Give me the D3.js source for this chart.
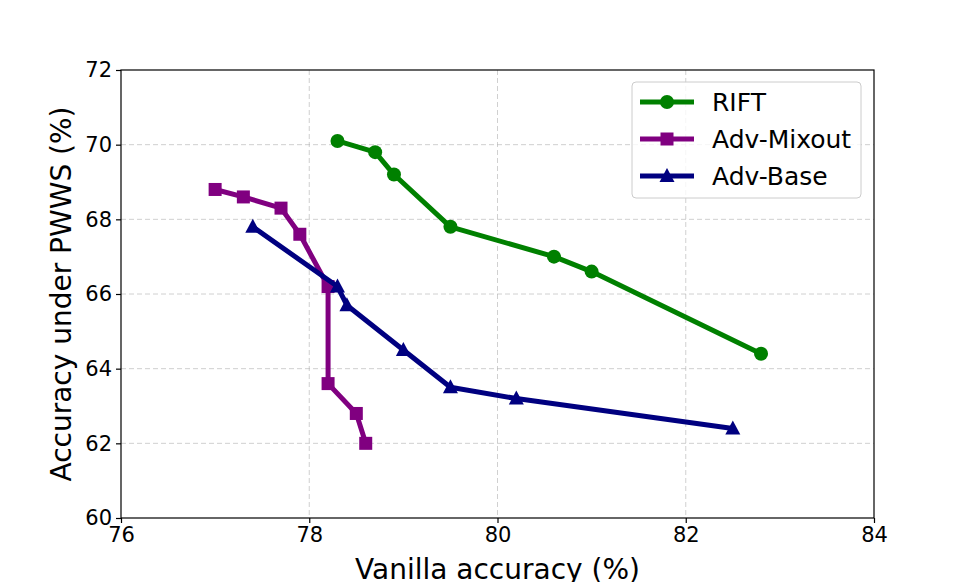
<!DOCTYPE html>
<html>
<head>
<meta charset="utf-8">
<script src="https://cdn.jsdelivr.net/npm/d3@7"></script>
<style>
  body { margin: 0; background: #fff; }
  svg { font-family: "DejaVu Sans", sans-serif; }
</style>
</head>
<body>
<svg id="chart" width="970" height="582"></svg>
<script>
// data
var riftX = [78.3, 78.7, 78.9, 79.5, 80.6, 81.0, 82.8];
var riftY = [70.1, 69.8, 69.2, 67.8, 67.0, 66.6, 64.4];
var mixoutX = [77.0, 77.3, 77.7, 77.9, 78.2, 78.2, 78.5, 78.6];
var mixoutY = [68.8, 68.6, 68.3, 67.6, 66.2, 63.6, 62.8, 62.0];
var baseX = [77.4, 78.3, 78.4, 79.0, 79.5, 80.2, 82.5];
var baseY = [67.8, 66.2, 65.7, 64.5, 63.5, 63.2, 62.4];
var xTicks = [76, 78, 80, 82, 84];
var yTicks = [60, 62, 64, 66, 68, 70, 72];

var series = [
    {name: "RIFT", xs: riftX, ys: riftY, color: "green", marker: "circle"},
    {name: "Adv-Mixout", xs: mixoutX, ys: mixoutY, color: "purple", marker: "square"},
    {name: "Adv-Base", xs: baseX, ys: baseY, color: "navy", marker: "triangle"}
];

var plotL = 121, plotR = 874, plotT = 70, plotB = 518;

var svg = d3.select("#chart");

var x = d3.scaleLinear().domain([76, 84]).range([plotL, plotR]);
var y = d3.scaleLinear().domain([60, 72]).range([plotB, plotT]);

// grid
var grid = svg.append("g");
grid.selectAll(".vg")
    .data(xTicks.slice(1, -1))
    .enter().append("line")
    .attr("x1", function(d) { return x(d); })
    .attr("x2", function(d) { return x(d); })
    .attr("y1", plotT).attr("y2", plotB)
    .attr("stroke", "#b0b0b0").attr("stroke-opacity", 0.6)
    .attr("stroke-width", 1).attr("stroke-dasharray", "5,3");
grid.selectAll(".hg")
    .data(yTicks.slice(1, -1))
    .enter().append("line")
    .attr("y1", function(d) { return y(d); })
    .attr("y2", function(d) { return y(d); })
    .attr("x1", plotL).attr("x2", plotR)
    .attr("stroke", "#b0b0b0").attr("stroke-opacity", 0.6)
    .attr("stroke-width", 1).attr("stroke-dasharray", "5,3");

// axes
var xAxis = svg.append("g")
    .attr("transform", "translate(0," + plotB + ")")
    .call(d3.axisBottom(x).tickValues(xTicks).tickSize(5).tickPadding(4));
var yAxis = svg.append("g")
    .attr("transform", "translate(" + plotL + ",0)")
    .call(d3.axisLeft(y).tickValues(yTicks).tickSize(5).tickPadding(4));
[xAxis, yAxis].forEach(function(a) {
    a.attr("font-size", null).attr("font-family", null);
    a.selectAll("text").style("font-size", "21px").attr("fill", "#000")
        .style("font-family", "DejaVu Sans, sans-serif");
    a.selectAll("line").attr("stroke", "#000").attr("stroke-width", 1.2);
    a.select(".domain").remove();
});

// frame
svg.append("rect")
    .attr("x", plotL).attr("y", plotT)
    .attr("width", plotR - plotL).attr("height", plotB - plotT)
    .attr("fill", "none").attr("stroke", "#000").attr("stroke-width", 1.2);

// axis labels
svg.append("text")
    .attr("x", (plotL + plotR) / 2).attr("y", 579)
    .attr("text-anchor", "middle").style("font-size", "28px")
    .text("Vanilla accuracy (%)");
svg.append("text")
    .attr("transform", "translate(71," + (plotT + plotB) / 2 + ") rotate(-90)")
    .attr("text-anchor", "middle").style("font-size", "28px")
    .text("Accuracy under PWWS (%)");

function drawMarker(g, type, color) {
    if (type == "circle") {
        g.append("circle").attr("r", 7).attr("fill", color);
    } else if (type == "square") {
        g.append("rect").attr("x", -6.5).attr("y", -6.5)
            .attr("width", 13).attr("height", 13).attr("fill", color);
    } else {
        g.append("path").attr("d", "M0,-8L7.5,6L-7.5,6Z").attr("fill", color);
    }
}

var line = d3.line()
    .x(function(d) { return x(d[0]); })
    .y(function(d) { return y(d[1]); });

series.forEach(function(s) {
    var pts = s.xs.map(function(v, i) { return [v, s.ys[i]]; });
    svg.append("path")
        .datum(pts)
        .attr("d", line)
        .attr("fill", "none")
        .attr("stroke", s.color)
        .attr("stroke-width", 5)
        .attr("stroke-linejoin", "round");
    pts.forEach(function(p) {
        var g = svg.append("g").attr("transform", "translate(" + x(p[0]) + "," + y(p[1]) + ")");
        drawMarker(g, s.marker, s.color);
    });
});

// legend
var legend = svg.append("g");
legend.append("rect")
    .attr("x", 632).attr("y", 82).attr("width", 229).attr("height", 116)
    .attr("rx", 4).attr("fill", "#fff").attr("fill-opacity", 0.8)
    .attr("stroke", "#cccccc").attr("stroke-width", 1);
series.forEach(function(s, i) {
    var ly = 102 + i * 37;
    legend.append("line")
        .attr("x1", 640).attr("x2", 694).attr("y1", ly).attr("y2", ly)
        .attr("stroke", s.color).attr("stroke-width", 5);
    var g = legend.append("g").attr("transform", "translate(667," + ly + ")");
    drawMarker(g, s.marker, s.color);
    legend.append("text")
        .attr("x", 712).attr("y", ly + 9)
        .style("font-size", "25px")
        .text(s.name);
});
</script>
</body>
</html>
